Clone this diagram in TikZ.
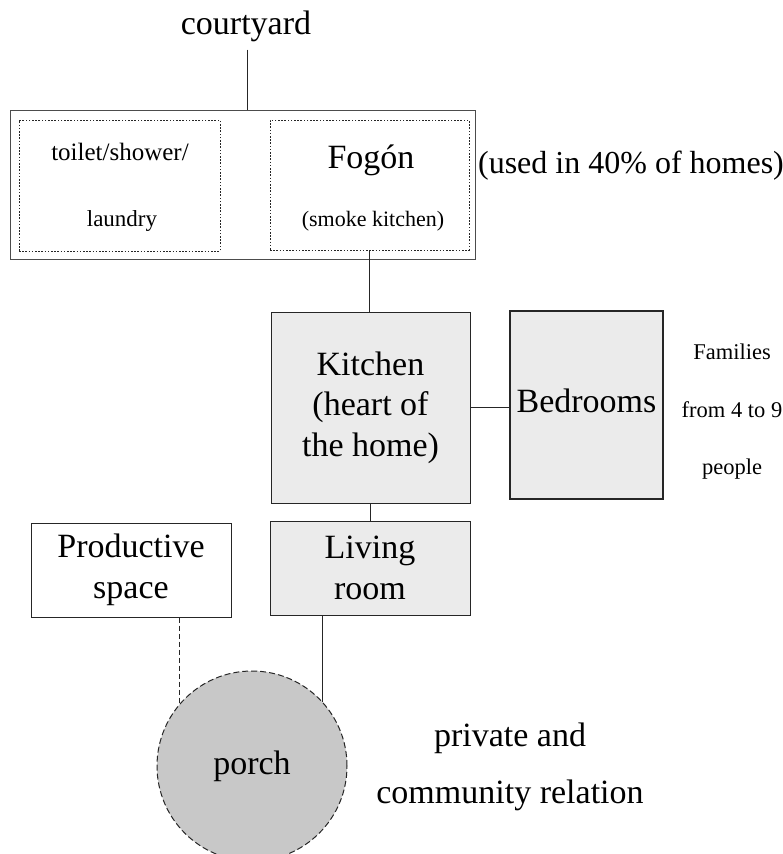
\documentclass[tikz,border=0pt]{standalone}
\usepackage{fontspec}
\setmainfont{Liberation Serif}
\usepackage{xcolor}
\usepackage{tikz}

\definecolor{roomfill}{RGB}{235,235,235}
\definecolor{porchfill}{RGB}{200,200,200}

\begin{document}
\begin{tikzpicture}[
  x=1pt, y=-1pt,
  big/.style={font=\fontsize{34}{41}\selectfont, inner sep=0pt},
  small/.style={font=\fontsize{22.5}{66}\selectfont, inner sep=0pt},
  frame/.style={draw=black!70, line width=1pt, inner sep=0pt},
  dotbox/.style={draw=black!85, line width=1pt, dash pattern=on 1.6pt off 1.6pt, inner sep=0pt},
  room/.style={draw=black!85, line width=1pt, fill=roomfill, align=center,
    inner sep=0pt, font=\fontsize{34}{40.5}\selectfont},
  plainroom/.style={draw=black!85, line width=1pt, align=center,
    inner sep=0pt, font=\fontsize{34}{41}\selectfont},
  link/.style={draw=black!85, line width=1pt},
  dashlink/.style={link, dash pattern=on 5pt off 3pt}
]
\useasboundingbox (0,0) rectangle (783,854);

% top block
\node[big, anchor=base] (courtyard) at (246,34) {courtyard};
\node[frame, minimum width=465pt, minimum height=149pt] (outer) at (242.5,184.5) {};
\node[dotbox, minimum width=201pt, minimum height=131pt] (toilet) at (119.5,185.5) {};
\node[dotbox, minimum width=199pt, minimum height=130pt] (fogon) at (369.5,185) {};
\node[small, font=\fontsize{25}{30}\selectfont, anchor=base] (toilettext) at (120,160) {toilet/shower/};
\node[small, font=\fontsize{23}{28}\selectfont, anchor=base] (laundry) at (122,226) {laundry};
\node[big, anchor=base] (fogontext) at (371,168) {Fogón};
\node[small, font=\fontsize{22}{26}\selectfont, anchor=base] (smoke) at (373,226) {(smoke kitchen)};
\node[big, font=\fontsize{32}{38}\selectfont, anchor=base] (used) at (631,173) {(used in 40\% of homes)};

% rooms
\node[room, minimum width=199pt, minimum height=191pt] (kitchen) at (370.5,407.5)
  {Kitchen\\(heart of\\the home)};
\node[room, line width=2pt, minimum width=153pt, minimum height=188pt] (bedrooms) at (586.5,405)
  {\raisebox{8pt}{Bedrooms}};
\node[small, font=\fontsize{22.5}{57.5}\selectfont, align=center] (families) at (732,412)
  {Families\\from 4 to 9\\people};
\node[room, minimum width=200pt, minimum height=94pt] (living) at (370,568) {Living\\room};
\node[plainroom, minimum width=200pt, minimum height=94pt] (productive) at (131,570)
  {Productive\\space};

% porch
\node[circle, draw=black!85, line width=1pt, dash pattern=on 6pt off 3pt, fill=porchfill,
  minimum size=190pt, inner sep=0pt, big] (porch) at (252,766) {porch};
\node[big, align=center, font=\fontsize{34}{57}\selectfont] (relation) at (510,767)
  {private and\\community relation};

% connectors
\draw[link, shorten <=8pt] (courtyard.south -| 247,0) -- (247,0 |- outer.north);
\draw[link] (fogon.south) -- (fogon.south |- kitchen.north);
\draw[link] (kitchen.east) -- (kitchen.east -| bedrooms.west);
\draw[link] (kitchen.south) -- (kitchen.south |- living.north);
\draw[link] (living.south -| porch.42) -- (porch.42);
\draw[dashlink] (productive.south -| porch.139) -- (porch.139);
\end{tikzpicture}
\end{document}
